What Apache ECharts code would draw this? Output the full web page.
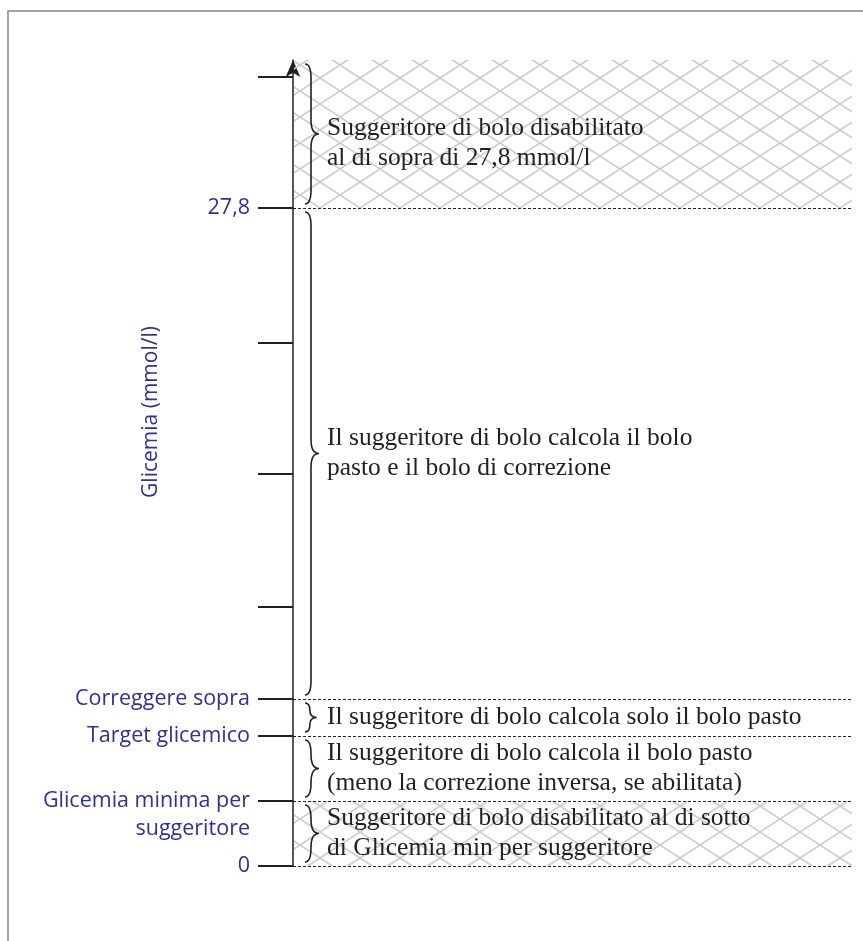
<!DOCTYPE html>
<html><head><meta charset="utf-8">
<script src="https://cdn.jsdelivr.net/npm/echarts@6/dist/echarts.min.js"></script>
<style>html,body{margin:0;padding:0;background:#fff}#c{width:863px;height:941px}</style>
</head><body><div id="c"></div>
<script>
// Schematic axis levels (axis units, bottom of axis = 0)
const axisMax = 806;
const tickLevels = [0, 65, 130, 167, 259, 392, 523, 658, 789];
const labelLevels = [0, 37, 65, 130, 167, 658];
const labelTexts = ['0', 'suggeritore', 'Glicemia minima per', 'Target glicemico', 'Correggere sopra', '27,8'];
const boundaryLevels = [0, 65, 130, 167, 658];
const bandStart = [658, 167, 130, 65, 0];
const bandEnd = [806, 658, 167, 130, 65];
const bandHatched = [true, false, false, false, true];
const bandTexts = [
  'Suggeritore di bolo disabilitato\nal di sopra di 27,8 mmol/l',
  'Il suggeritore di bolo calcola il bolo\npasto e il bolo di correzione',
  'Il suggeritore di bolo calcola solo il bolo pasto',
  'Il suggeritore di bolo calcola il bolo pasto\n(meno la correzione inversa, se abilitata)',
  'Suggeritore di bolo disabilitato al di sotto\ndi Glicemia min per suggeritore'
];
const axisTitle = 'Glicemia (mmol/l)';

const BLUE = '#2e3192', INK = '#231f20';

function makeHatch() {
  const w = 40, h = 26;
  const c = document.createElement('canvas');
  c.width = w; c.height = h;
  const g = c.getContext('2d');
  g.strokeStyle = '#cdcdcd';
  g.lineWidth = 1.7;
  g.beginPath();
  g.moveTo(0, 0); g.lineTo(w, h);
  g.moveTo(w, 0); g.lineTo(0, h);
  g.stroke();
  return c;
}
const hatch = { image: makeHatch(), repeat: 'repeat' };

const chart = echarts.init(document.getElementById('c'), null, { renderer: 'canvas' });
chart.setOption({
  animation: false,
  backgroundColor: '#fff',
  graphic: [{
    type: 'rect', silent: true, z: 100,
    shape: { x: 8, y: 11, width: 900, height: 1000 },
    style: { fill: 'none', stroke: '#858585', lineWidth: 1.5 }
  }],
  grid: { left: 293, right: 11, top: 60, bottom: 75 },
  xAxis: { type: 'value', min: 0, max: 1, show: false },
  yAxis: {
    type: 'value', min: 0, max: axisMax,
    name: axisTitle, nameLocation: 'middle', nameRotate: 90, nameGap: 131,
    nameMoveOverlap: false,
    nameTextStyle: { color: BLUE, fontFamily: 'Open Sans', fontSize: 21, padding: [0, 0, 0, 102] },
    axisLine: { show: true, symbol: ['none', 'arrow'], symbolSize: [11, 17], symbolOffset: [0, 0],
      lineStyle: { color: INK, width: 1.5 } },
    axisTick: { show: true, customValues: tickLevels, length: 35, lineStyle: { color: INK, width: 2 } },
    axisLabel: {
      customValues: labelLevels, margin: 43,
      formatter: v => labelTexts[labelLevels.indexOf(v)],
      color: BLUE, fontFamily: 'Open Sans', fontSize: 21.5
    },
    splitLine: { show: false }
  },
  series: [{
    type: 'custom',
    silent: true,
    data: bandStart.map((s, i) => [s, bandEnd[i]]),
    renderItem: function (params, api) {
      const i = params.dataIndex;
      const cs = params.coordSys;
      const yTop = api.coord([0, api.value(1)])[1];
      const yBot = api.coord([0, api.value(0)])[1];
      const L = cs.x;
      const children = [];
      if (bandHatched[i]) {
        children.push({ type: 'rect', shape: { x: L + 1, y: yTop, width: cs.width - 1, height: yBot - yTop },
          style: { fill: hatch } });
      }
      const top = yTop + 4, bot = yBot - 4, mid = (top + bot) / 2;
      const span = bot - top;
      const d = Math.min(6, span / 6);
      const r = Math.min(14, span / 4);
      const x0 = L + 12, x1 = x0 + d, x2 = x0 + 2 * d + 2;
      const p = 'M' + x0 + ' ' + top +
        ' Q' + x1 + ' ' + top + ' ' + x1 + ' ' + (top + r) +
        ' L' + x1 + ' ' + (mid - r) +
        ' Q' + x1 + ' ' + mid + ' ' + x2 + ' ' + mid +
        ' Q' + x1 + ' ' + mid + ' ' + x1 + ' ' + (mid + r) +
        ' L' + x1 + ' ' + (bot - r) +
        ' Q' + x1 + ' ' + bot + ' ' + x0 + ' ' + bot;
      children.push({ type: 'path', shape: { pathData: p },
        style: { fill: 'none', stroke: INK, lineWidth: 1.6 } });
      const shift = i === 0 ? 9 : 0;
      children.push({ type: 'text', style: {
        text: bandTexts[i], x: L + 34, y: mid + shift, verticalAlign: 'middle', align: 'left',
        fontFamily: 'Liberation Serif', fontSize: 25.5, lineHeight: 30, fill: INK } });
      return { type: 'group', children: children };
    },
    markLine: {
      silent: true, symbol: 'none',
      label: { show: false },
      lineStyle: { color: '#222', width: 1.1, type: [3, 2] },
      data: boundaryLevels.map(v => ({ yAxis: v }))
    }
  }]
});
</script></body></html>
